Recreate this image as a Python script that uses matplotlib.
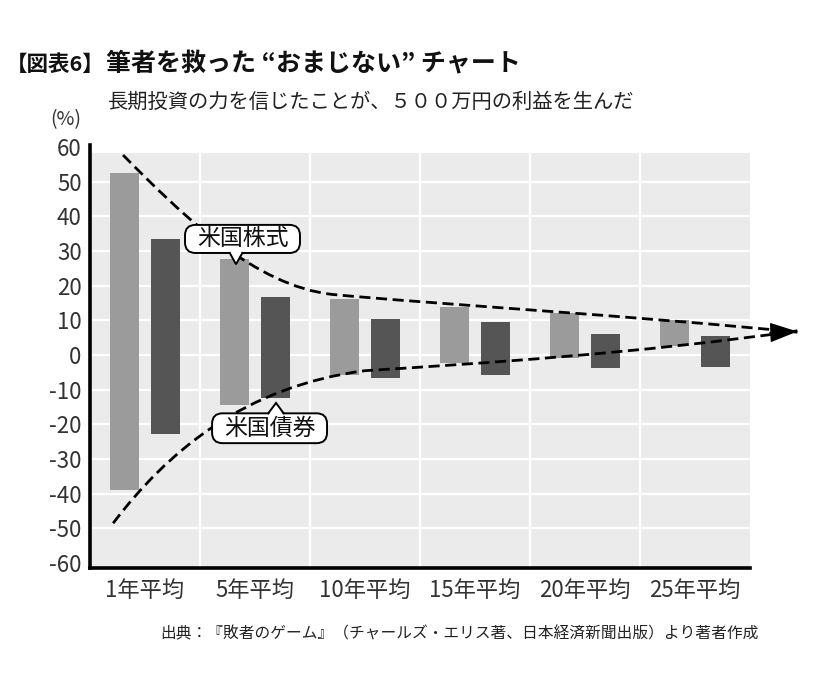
import numpy as np
import matplotlib.pyplot as plt
from matplotlib.patches import Rectangle, FancyBboxPatch, Polygon, PathPatch
from matplotlib.path import Path

plt.rcParams['font.family'] = ['Noto Sans CJK JP', 'DejaVu Sans']
plt.rcParams['axes.unicode_minus'] = False

# Data: best / worst average annual return (%) by holding period
periods = ['1年平均', '5年平均', '10年平均', '15年平均', '20年平均', '25年平均']
stock_high = [52.5, 27.6, 16.1, 13.9, 12.0, 10.1]
stock_low = [-38.9, -14.4, -5.6, -2.2, -0.8, 2.6]
bond_high = [33.4, 16.7, 10.3, 9.4, 6.1, 5.5]
bond_low = [-22.9, -12.5, -6.5, -5.8, -3.8, -3.3]

# Hand-drawn convergence guides (bezier control points, data coords)
upper_guide = [(-0.2, 57.7), (0.35, 40), (1.0, 20), (1.7, 17.5),
               (2.6, 14.8), (4.5, 11.2), (5.93, 6.6)]
lower_guide = [(-0.29, -48.5), (0.2, -28), (0.9, -9), (2.0, -4.5),
               (3.0, -2.5), (4.5, 0.5), (5.93, 7.0)]
arrow_tip = (5.93, 6.8)

STOCK_COLOR = '#9b9b9b'
BOND_COLOR = '#555555'
BG_COLOR = '#ebebeb'

fig = plt.figure(figsize=(8.2, 6.94), dpi=100)
ax = fig.add_axes([0.1098, 0.1816, 0.8049, 0.6095])

x = np.arange(len(periods))
ymin, ymax, bg_top = -61.4, 60.6, 58.3
ax.set_xlim(-0.5, 5.5)
ax.set_ylim(ymin, ymax)

# Background panel and white grid
ax.add_patch(Rectangle((-0.5, ymin), 6, bg_top - ymin, facecolor=BG_COLOR,
                       edgecolor='none', zorder=0))
ax.hlines(np.arange(-50, 51, 10), -0.5, 5.5, colors='white', lw=1.6, zorder=0.5)
ax.vlines(x[:-1] + 0.5, ymin, bg_top, colors='white', lw=1.6, zorder=0.5)

# Floating bars
s_hi, s_lo = np.array(stock_high), np.array(stock_low)
b_hi, b_lo = np.array(bond_high), np.array(bond_low)
ax.bar(x - 0.185, s_hi - s_lo, bottom=s_lo, width=0.265, color=STOCK_COLOR, zorder=2)
ax.bar(x + 0.185, b_hi - b_lo, bottom=b_lo, width=0.265, color=BOND_COLOR, zorder=2)

# Dashed guides
codes = [Path.MOVETO] + [Path.CURVE4] * 6
for pts in (upper_guide, lower_guide):
    ax.add_patch(PathPatch(Path(pts, codes), facecolor='none', edgecolor='black',
                           lw=2.0, linestyle=(0, (4, 2)), zorder=3, clip_on=False))
ax.annotate('', xy=arrow_tip, xytext=(arrow_tip[0] - 0.25, arrow_tip[1] - 0.3),
            arrowprops=dict(arrowstyle='-|>,head_length=1.25,head_width=0.45',
                            mutation_scale=14, color='black', lw=1,
                            shrinkA=0, shrinkB=0),
            annotation_clip=False, zorder=3)


def callout(text, cx, cy, w, h, tip, base, up):
    # rounded label box with a small pointer
    aspect = 110 / 3.467
    ax.add_patch(FancyBboxPatch((cx - w / 2, cy - h / 2), w, h,
                                boxstyle='round,pad=0,rounding_size=0.095',
                                mutation_aspect=aspect, facecolor='white',
                                edgecolor='black', lw=1.4, zorder=4))
    edge = cy + h / 2 if up else cy - h / 2
    inner = edge - 0.6 if up else edge + 0.6
    ax.add_patch(Polygon([(base[0], inner), tip, (base[1], inner)], closed=True,
                         facecolor='white', edgecolor='none', zorder=5))
    ax.plot([base[0], tip[0], base[1]], [edge, tip[1], edge], color='black',
            lw=1.4, zorder=5, solid_joinstyle='miter')
    ax.text(cx, cy, text, ha='center', va='center', fontsize=16.5, zorder=6,
            color='#111111')


callout('米国株式', 0.886, 33.5, 1.045, 8.1, (0.827, 26.2), (0.77, 0.885), False)
callout('米国債券', 1.132, -21.1, 1.045, 8.6, (1.191, -13.8), (1.12, 1.26), True)

# Axes styling
for side in ('top', 'right'):
    ax.spines[side].set_visible(False)
for side in ('left', 'bottom'):
    ax.spines[side].set_linewidth(2.6)
    ax.spines[side].set_color('black')
ax.set_yticks(np.arange(-60, 61, 10))
ax.set_xticks(x)
ax.set_xticklabels(periods)
ax.tick_params(axis='y', length=0, pad=6, labelsize=16, labelcolor='#333333')
ax.tick_params(axis='x', length=0, pad=8, labelsize=16, labelcolor='#333333')

# Titles and notes
fig.text(6 / 820, 1 - 64.5 / 694, '【図表6】', ha='left', va='center',
         fontsize=15.5, fontweight='bold', color='#111111')
fig.text(106 / 820, 1 - 64.5 / 694, '筆者を救った “おまじない” チャート', ha='left',
         va='center', fontsize=18, fontweight='bold', color='#111111')
fig.text(108 / 820, 1 - 102 / 694, '長期投資の力を信じたことが、５００万円の利益を生んだ',
         ha='left', va='center', fontsize=14.6, color='#222222')
fig.text(66 / 820, 1 - 120 / 694, '(%)', ha='center', va='center', fontsize=14,
         color='#333333')
fig.text(459 / 820, 1 - 634 / 694,
         '出典：『敗者のゲーム』（チャールズ・エリス著、日本経済新聞出版）より著者作成',
         ha='center', va='center', fontsize=11.3, color='#222222')

fig.savefig('out.png', dpi=100)
